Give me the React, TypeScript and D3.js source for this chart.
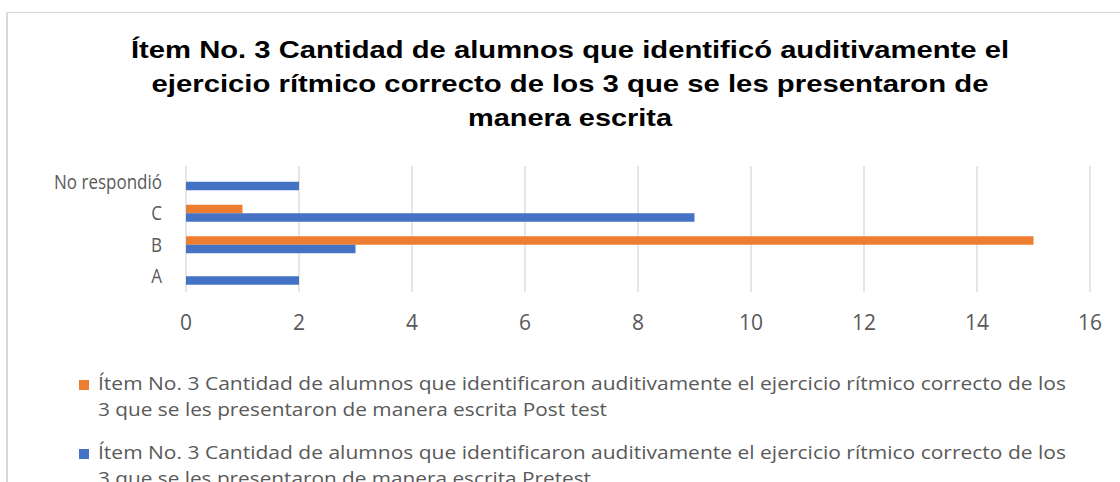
import React from "react";
import * as d3 from "d3";

const categories = ["A", "B", "C", "No respondió"];
const pretest = [2, 3, 9, 2];
const posttest = [0, 15, 1, 0];
const xTicks = [0, 2, 4, 6, 8, 10, 12, 14, 16];
const titleLines = [
  "Ítem No. 3 Cantidad de alumnos que identificó auditivamente el",
  "ejercicio rítmico correcto de los 3 que se les presentaron de",
  "manera escrita",
];
const legendPost = [
  "Ítem No. 3 Cantidad de alumnos que identificaron auditivamente el ejercicio rítmico correcto de los",
  "3 que se les presentaron de manera escrita Post test",
];
const legendPre = [
  "Ítem No. 3 Cantidad de alumnos que identificaron auditivamente el ejercicio rítmico correcto de los",
  "3 que se les presentaron de manera escrita Pretest",
];

const ORANGE = "#ED7D31";
const BLUE = "#4472C4";
const GRID = "#d9d9d9";
const TXT = "#595959";
const LFONT = "'Open Sans', 'Noto Sans', sans-serif";
const TFONT = "'Liberation Sans', Arial, sans-serif";

const titleLens = [878, 837, 204];
const legendLens = [[968, 509], [968, 493]];

export default function App() {
  const W = 1120, H = 482;
  const x = d3.scaleLinear().domain([0, 16]).range([186, 1090]);
  const y = d3.scaleBand<string>().domain(categories).range([292, 166]).paddingInner(0.46).paddingOuter(0.23);
  const sub = d3.scaleBand<string>().domain(["post", "pre"]).range([0, y.bandwidth()]);
  const series = [
    { key: "post", values: posttest, color: ORANGE },
    { key: "pre", values: pretest, color: BLUE },
  ];
  const legends = [
    { lines: legendPost, color: ORANGE, y0: 390 },
    { lines: legendPre, color: BLUE, y0: 459 },
  ];
  return (
    <svg width={W} height={H} style={{ position: "absolute", left: 0, top: 0, background: "#fff" }}>
      <rect x={0} y={0} width={W} height={H} fill="#fff" />
      <rect x={7} y={12.5} width={1120} height={480} fill="#fff" stroke={GRID} strokeWidth={1} />
      <line x1={7} x2={7} y1={12} y2={H} stroke={GRID} strokeWidth={2} />
      {titleLines.map((t, i) => (
        <text key={i} x={570} y={58 + i * 34} textAnchor="middle" fontFamily={TFONT}
          fontWeight="bold" fontSize={24} fill="#000" textLength={titleLens[i]} lengthAdjust="spacingAndGlyphs">{t}</text>
      ))}
      {xTicks.map((t) => (
        <g key={t}>
          <line x1={x(t)} x2={x(t)} y1={166} y2={292} stroke={GRID} strokeWidth={1.3} />
          <text x={x(t)} y={330} textAnchor="middle" fontFamily={LFONT} fontSize={21} fill={TXT}>{t}</text>
        </g>
      ))}
      {categories.map((c) => (
        <g key={c} transform={`translate(162,${(y(c) as number) + y.bandwidth() / 2 + 7}) scale(0.85,1)`}>
          <text x={0} y={0} textAnchor="end" fontFamily={LFONT} fontSize={20} fill={TXT}>{c}</text>
        </g>
      ))}
      {series.map((s) =>
        categories.map((c, i) => (
          <rect key={s.key + c} x={x(0)} y={(y(c) as number) + (sub(s.key) as number)}
            width={Math.max(0, x(s.values[i]) - x(0))} height={sub.bandwidth()} fill={s.color} />
        ))
      )}
      {legends.map((lg, k) => (
        <g key={k}>
          <rect x={79} y={lg.y0 - 10} width={10} height={10} fill={lg.color} />
          {lg.lines.map((t, i) => (
            <text key={i} x={98} y={lg.y0 + i * 26} fontFamily={LFONT} fontSize={19} fill={TXT}
              textLength={legendLens[k][i]} lengthAdjust="spacingAndGlyphs">{t}</text>
          ))}
        </g>
      ))}
    </svg>
  );
}
